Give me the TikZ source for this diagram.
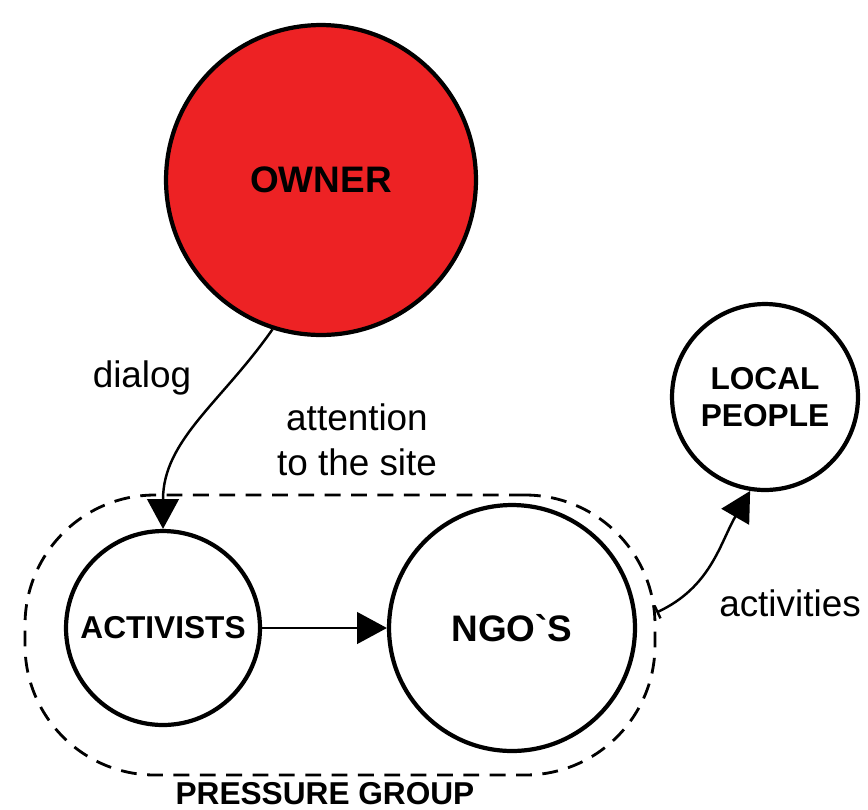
\documentclass[tikz,border=0pt]{standalone}
\usepackage{xcolor}
\usepackage{fontspec}
\setmainfont{Liberation Sans}
\usepackage{tikz}
\usetikzlibrary{shapes.geometric,arrows.meta,calc,positioning,fit}

\definecolor{ownerred}{RGB}{237,34,36}

\begin{document}
\begin{tikzpicture}[x=0.02cm,y=-0.02cm,
		arrow/.style = {line width=1.4pt,-{Triangle[length=17pt,width=18pt]}}]
		\tikzset{actor/.style={circle,draw=black,line width=2.4pt,inner sep=0pt,align=center,font=\bfseries\fontsize{18}{21}\selectfont}}
		\tikzset{lbl/.style={align=center,font=\fontsize{21}{25.5}\selectfont}}

		\useasboundingbox (0,0) rectangle (868,809);

		% Actors
		\node[actor, fill=ownerred, minimum size=6.2cm, font=\bfseries\fontsize{21}{25}\selectfont] (owner) at (321,180) {OWNER};

		\node[actor, fill=white, minimum size=3.88cm] (activists) at (163,628) {ACTIVISTS};

		\node[actor, fill=white, minimum size=4.92cm, font=\bfseries\fontsize{21}{25}\selectfont] (ngos) at (512,628) {NGO\textasciigrave S};

		\node[actor, fill=white, minimum size=3.72cm] (locals) at (765,397) {LOCAL\\PEOPLE};

		% Group
		\node[fit={(25,495) (655,775)}, inner sep=0pt, draw=black, line width=1.6pt, dash pattern=on 9pt off 6pt, rounded corners=2.6cm] (pressure) {};
		\node[font=\bfseries\fontsize{18}{21}\selectfont] (pgtext) at (325,794) {PRESSURE GROUP};

		% Labels
		\node[lbl] (dialog) at (142,378) {dialog};
		\node[lbl] (attention) at (357,440) {attention\\to the site};
		\node[lbl] (activities) at (790,603) {activities};

		% Arrows
		\draw [arrow] (owner.252) to[out=235,in=90] (activists.north);
		\draw [arrow] (activists) -- (ngos);
		\draw [arrow,{Bar[width=8pt]}-{Triangle[length=17pt,width=18pt]}] ([yshift=0.45cm]pressure.east) to[out=25,in=240] (locals.261);

	\end{tikzpicture}
\end{document}
